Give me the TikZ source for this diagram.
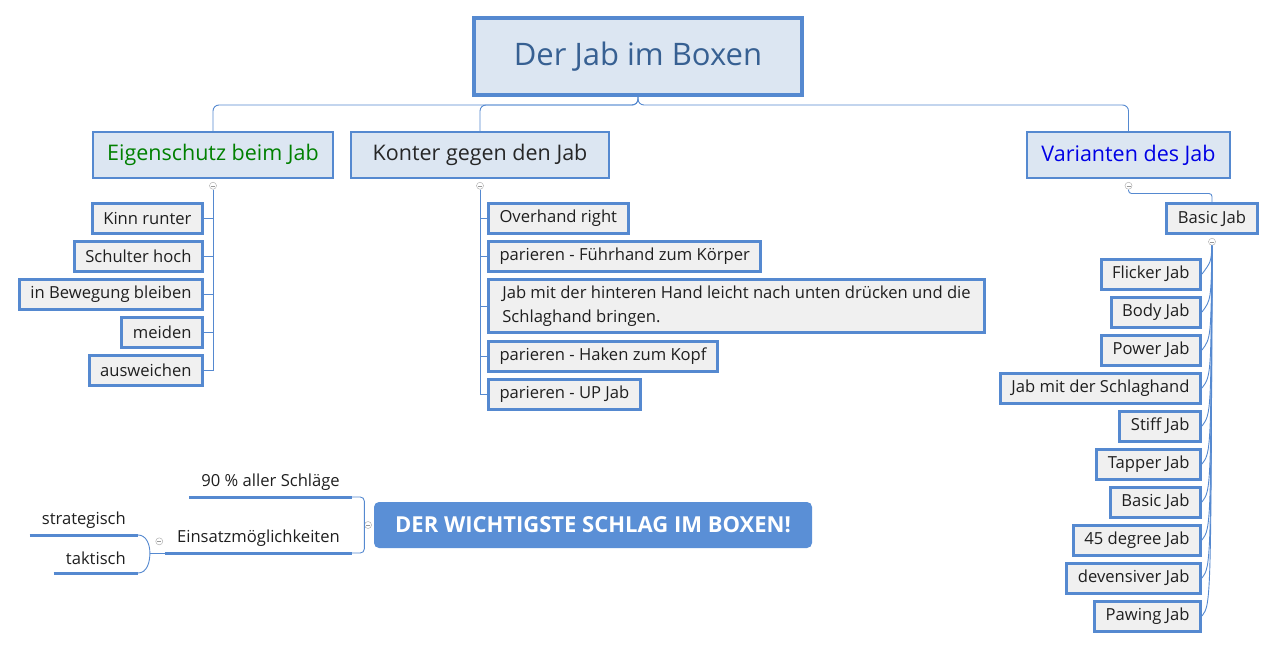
\documentclass[tikz,border=0pt]{standalone}
\usepackage{fontspec}
\setmainfont{Open Sans}
\usetikzlibrary{positioning}
\definecolor{boxblue}{HTML}{5589D0}
\definecolor{topicfill}{HTML}{DCE6F2}
\definecolor{leaffill}{HTML}{F0F0F0}
\definecolor{titleblue}{HTML}{376092}
\definecolor{mainblue}{HTML}{5A8FD6}
\begin{document}
\begin{tikzpicture}[x=1pt,y=-1pt,
	root/.style={draw=boxblue,line width=4pt,fill=topicfill,minimum width=328pt,minimum height=77pt,text=titleblue,font=\fontsize{31}{36}\selectfont},
	topic/.style={draw=boxblue,line width=2pt,fill=topicfill,minimum height=46pt,inner xsep=14pt,font=\fontsize{21.5}{26}\selectfont},
	leaf/.style={draw=boxblue,line width=3pt,fill=leaffill,minimum height=30pt,inner xsep=11pt,text=black!88,font=\fontsize{16.6}{24}\selectfont},
	plainleaf/.style={},
	wideleaf/.style={minimum height=53pt,minimum width=496pt},
	floating/.style={inner xsep=12pt,minimum height=30pt,text=black!88,font=\fontsize{16.6}{22}\selectfont},
	link/.style={draw=boxblue,line width=0.9pt},
	uline/.style={draw=boxblue,line width=3pt},
	knob/.style={circle,draw=black!30,fill=white,line width=0.5pt,inner sep=0pt,minimum size=7pt,
		path picture={\draw[black!40,line width=0.5pt] ([xshift=-2pt]path picture bounding box.center) -- ([xshift=2pt]path picture bounding box.center);}},
]
\useasboundingbox (0,0) rectangle (1276,650);

% main topic and first level
\node[root] (root) at (638,56.5) {Der Jab im Boxen};
\node[topic,text=green!50!black] (eig) at (213,155) {Eigenschutz beim Jab};
\node[topic,text=black!85,minimum width=258pt] (kon) at (480,155) {Konter gegen den Jab};
\node[topic,text=blue!90!black] (var) at (1128.5,155) {Varianten des Jab};
\foreach \t in {eig,kon,var}
	\draw[link,rounded corners=6pt] (root.south) -- ++(0,8) -| (\t.north);

% Eigenschutz
\node[knob,below=3pt of eig] (eigk) {};
\foreach \t [count=\i] in {Kinn runter,Schulter hoch,in Bewegung bleiben,meiden,ausweichen} {
	\pgfmathsetmacro{\y}{180+38*\i}
	\node[leaf,anchor=east] (e\i) at (204,\y) {\t};
	\draw[link] (eigk.south) |- (e\i.east);
}

% Konter
\node[knob,below=3pt of kon] (konk) {};
\foreach \t/\y/\o [count=\i] in {Overhand right/218/plainleaf,parieren - Führhand zum Körper/256/plainleaf,
	{Jab mit der hinteren Hand leicht nach unten drücken und die\\Schlaghand bringen.}/306/wideleaf,
	parieren - Haken zum Kopf/356/plainleaf,parieren - UP Jab/394/plainleaf} {
	\node[leaf,anchor=west,align=left,\o] (k\i) at (487,\y) {\t};
	\draw[link] (konk.south) |- (k\i.west);
}

% Varianten
\node[knob,below=3pt of var] (vark) {};
\node[leaf] (bj) at (1212,218.5) {Basic Jab};
\draw[link,rounded corners=3pt] (vark.south) -- ++(0,4) -| (bj.north);
\node[knob,below=3pt of bj] (bjk) {};
\foreach \t [count=\i] in {Flicker Jab,Body Jab,Power Jab,Jab mit der Schlaghand,Stiff Jab,
	Tapper Jab,Basic Jab,45 degree Jab,devensiver Jab,Pawing Jab} {
	\pgfmathsetmacro{\y}{236+38*\i}
	\node[leaf,anchor=east] (v\i) at (1202,\y) {\t};
	\draw[link] (bjk.south) .. controls ([xshift=9pt,yshift=12pt]v\i.east) .. (v\i.east);
}

% floating topic
\node[fill=mainblue,rounded corners=5pt,minimum width=438pt,minimum height=46pt,text=white,
	font=\fontsize{22}{26}\selectfont\bfseries] (main) at (593,525) {DER WICHTIGSTE SCHLAG IM BOXEN!};
\node[knob,left=2pt of main] (maink) {};
\node[floating,anchor=south east] (n90) at (352,497) {90 \% aller Schläge};
\node[floating,anchor=south east] (ein) at (352,553) {Einsatzmöglichkeiten};
\node[floating,anchor=south east] (str) at (138,535) {strategisch};
\node[floating,anchor=south east] (tak) at (138,573) {taktisch};
\foreach \t in {n90,ein,str,tak}
	\draw[uline] (\t.south west) -- (\t.south east);
\draw[link,rounded corners=4pt] (n90.south east) -| (maink.west) |- (ein.south east);
\coordinate (einj) at ([xshift=-15pt]ein.south west);
\draw[link] (ein.south west) -- (einj);
\draw[link] (str.south east) to[out=0,in=90] (einj) to[out=-90,in=0] (tak.south east);
\node[knob,above left=9pt and 3pt of ein.south west] (eink) {};
\end{tikzpicture}
\end{document}
